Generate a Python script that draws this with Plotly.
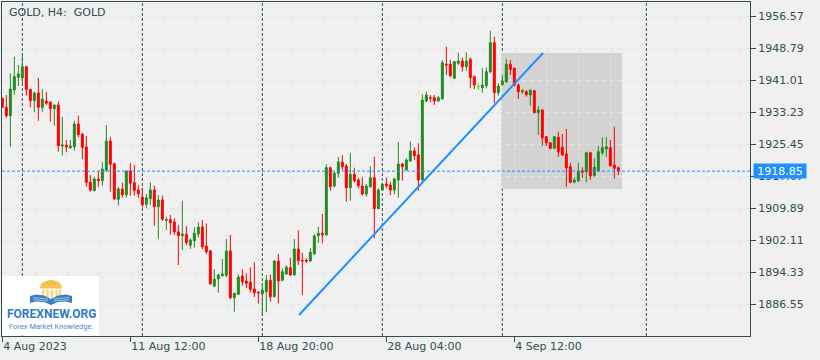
import plotly.graph_objects as go

# ---------------- data (GOLD, H4 bars) ----------------
bar_index = list(range(155))
opens = [1936.56, 1934.37, 1932.33, 1938.58, 1941.67, 1941.50, 1944.24, 1938.75, 1935.98, 1937.85,
         1934.37, 1935.90, 1935.66, 1934.03, 1934.93, 1924.96, 1925.13, 1924.55, 1924.79, 1930.31,
         1927.88, 1924.72, 1916.14, 1914.10, 1916.94, 1916.53, 1919.13, 1926.18, 1920.66, 1912.01,
         1914.51, 1913.12, 1918.89, 1916.04, 1914.27, 1912.56, 1910.79, 1912.15, 1914.27, 1910.21,
         1911.83, 1906.90, 1907.05, 1906.49, 1904.05, 1903.16, 1903.50, 1900.82, 1901.94, 1903.57,
         1905.27, 1900.65, 1899.44, 1890.93, 1892.63, 1893.43, 1893.53, 1899.44, 1888.08, 1888.91,
         1893.36, 1892.14, 1891.90, 1890.20, 1889.47, 1889.05, 1889.54, 1892.31, 1888.32, 1897.00,
         1892.31, 1893.84, 1895.38, 1893.60, 1899.92, 1897.13, 1897.13, 1897.00, 1898.71, 1903.16,
         1903.74, 1903.33, 1919.69, 1915.24, 1918.33, 1921.07, 1920.10, 1914.83, 1918.08, 1916.70,
         1915.24, 1913.29, 1915.07, 1917.26, 1909.72, 1914.27, 1915.73, 1915.48, 1914.27, 1916.70,
         1920.59, 1919.13, 1921.32, 1923.75, 1922.78, 1916.70, 1935.90, 1936.71, 1936.71, 1935.90,
         1936.39, 1944.83, 1944.83, 1941.42, 1945.07, 1945.63, 1944.24, 1946.04, 1941.81, 1939.38,
         1939.14, 1939.62, 1943.03, 1950.08, 1937.92, 1939.87, 1940.60, 1944.85, 1943.85, 1939.79,
         1938.09, 1938.17, 1937.36, 1938.41, 1933.06, 1933.72, 1927.22, 1925.77, 1924.40, 1927.08,
         1924.65, 1923.02, 1919.93, 1916.14, 1916.53, 1918.96, 1918.71, 1923.33, 1917.74, 1918.96,
         1923.33, 1924.23, 1924.55, 1920.34, 1919.69]
highs = [1936.71, 1937.36, 1942.64, 1946.67, 1944.66, 1946.92, 1944.30, 1938.80, 1938.17, 1941.50,
         1938.75, 1938.09, 1935.70, 1935.00, 1935.73, 1932.01, 1926.42, 1926.42, 1931.11, 1932.33,
         1928.05, 1927.39, 1917.91, 1917.50, 1918.96, 1921.07, 1930.07, 1927.22, 1920.90, 1915.07,
         1916.04, 1918.95, 1920.76, 1920.34, 1915.48, 1914.83, 1913.29, 1916.14, 1915.31, 1913.05,
         1912.88, 1907.77, 1908.19, 1907.39, 1905.76, 1911.59, 1905.51, 1902.52, 1905.20, 1906.41,
         1906.97, 1906.17, 1899.68, 1894.99, 1893.84, 1897.49, 1902.35, 1903.33, 1889.20, 1893.77,
         1894.99, 1894.01, 1895.47, 1896.69, 1889.50, 1891.41, 1893.60, 1893.77, 1897.25, 1898.71,
         1895.23, 1895.96, 1897.81, 1902.35, 1904.42, 1899.02, 1897.73, 1900.09, 1903.50, 1905.34,
         1908.43, 1920.52, 1919.93, 1918.71, 1922.29, 1922.78, 1920.59, 1923.19, 1919.69, 1917.26,
         1917.35, 1915.73, 1920.10, 1922.36, 1914.68, 1916.04, 1917.26, 1916.29, 1917.26, 1925.94,
         1920.90, 1921.97, 1926.01, 1924.65, 1925.62, 1937.53, 1938.17, 1937.36, 1937.36, 1937.12,
         1945.87, 1949.11, 1945.87, 1945.63, 1947.65, 1946.43, 1947.74, 1946.53, 1942.06, 1940.21,
         1943.85, 1944.00, 1953.00, 1951.54, 1940.21, 1942.23, 1946.16, 1945.87, 1944.10, 1940.21,
         1938.82, 1938.58, 1938.82, 1938.58, 1934.69, 1933.89, 1927.39, 1925.86, 1927.39, 1928.44,
         1927.88, 1929.10, 1920.90, 1917.35, 1920.90, 1919.79, 1923.58, 1923.50, 1921.97, 1924.96,
         1927.08, 1927.08, 1926.42, 1929.66, 1919.93]
lows = [1934.27, 1931.84, 1924.79, 1937.36, 1939.55, 1940.21, 1937.19, 1934.37, 1933.16, 1931.11,
        1933.30, 1934.93, 1930.87, 1929.90, 1923.58, 1922.61, 1923.43, 1924.23, 1923.82, 1927.08,
        1921.80, 1915.07, 1913.85, 1914.00, 1915.07, 1915.31, 1918.71, 1913.85, 1911.83, 1910.45,
        1912.39, 1912.39, 1912.88, 1912.88, 1912.39, 1910.06, 1909.82, 1910.55, 1905.59, 1902.43,
        1906.80, 1904.54, 1903.40, 1903.33, 1896.03, 1899.68, 1900.82, 1899.92, 1900.24, 1902.77,
        1899.92, 1898.71, 1891.30, 1890.61, 1889.30, 1893.19, 1893.11, 1887.69, 1884.68, 1888.80,
        1891.00, 1890.37, 1889.39, 1888.25, 1886.62, 1883.88, 1884.53, 1887.11, 1888.30, 1886.72,
        1892.14, 1893.60, 1893.50, 1893.50, 1896.03, 1888.74, 1896.52, 1896.83, 1898.60, 1901.38,
        1901.31, 1903.20, 1914.10, 1914.83, 1917.26, 1919.13, 1911.42, 1911.66, 1916.04, 1914.68,
        1912.88, 1912.64, 1914.83, 1902.52, 1909.60, 1914.10, 1914.68, 1913.05, 1913.22, 1912.39,
        1916.53, 1919.00, 1921.15, 1921.56, 1914.10, 1916.60, 1935.59, 1935.59, 1934.93, 1935.73,
        1936.30, 1942.23, 1941.67, 1941.25, 1944.66, 1943.03, 1943.20, 1938.99, 1938.82, 1938.58,
        1937.92, 1938.99, 1942.64, 1935.35, 1937.19, 1939.67, 1940.28, 1942.23, 1939.55, 1936.39,
        1937.61, 1936.95, 1934.76, 1932.91, 1927.64, 1925.04, 1924.96, 1924.16, 1924.23, 1922.36,
        1922.53, 1915.07, 1915.90, 1915.90, 1916.14, 1917.26, 1916.14, 1916.70, 1917.50, 1918.71,
        1922.78, 1922.36, 1919.93, 1917.11, 1917.91]
closes = [1934.37, 1932.33, 1938.82, 1941.81, 1942.47, 1944.24, 1938.75, 1935.98, 1937.85, 1934.37,
          1936.39, 1935.35, 1934.03, 1934.93, 1925.04, 1925.21, 1924.72, 1924.96, 1930.31, 1927.71,
          1924.65, 1916.14, 1914.27, 1916.94, 1916.53, 1919.37, 1926.18, 1920.51, 1912.08, 1914.51,
          1913.12, 1918.89, 1915.90, 1914.19, 1913.37, 1910.69, 1912.39, 1914.27, 1910.21, 1911.83,
          1907.14, 1907.05, 1906.32, 1904.13, 1903.16, 1903.57, 1901.45, 1902.11, 1903.74, 1905.27,
          1900.48, 1899.27, 1891.41, 1892.56, 1893.60, 1893.84, 1899.44, 1888.08, 1889.15, 1893.11,
          1891.97, 1891.58, 1890.12, 1889.30, 1889.30, 1889.88, 1892.31, 1888.32, 1897.00, 1892.14,
          1894.40, 1895.47, 1893.60, 1899.92, 1897.13, 1897.03, 1897.00, 1899.12, 1903.08, 1903.74,
          1903.33, 1919.69, 1915.07, 1918.33, 1921.07, 1919.93, 1914.83, 1918.08, 1916.53, 1915.31,
          1913.29, 1915.24, 1917.26, 1909.72, 1914.27, 1915.65, 1915.31, 1914.27, 1916.94, 1920.59,
          1919.93, 1921.56, 1923.75, 1922.61, 1916.70, 1936.15, 1937.36, 1936.56, 1935.90, 1936.71,
          1945.22, 1944.66, 1942.06, 1945.46, 1945.63, 1944.24, 1945.63, 1941.57, 1939.79, 1939.45,
          1939.79, 1943.03, 1950.08, 1937.92, 1939.55, 1940.77, 1944.85, 1943.56, 1939.79, 1938.17,
          1938.34, 1937.44, 1938.51, 1933.06, 1933.72, 1926.98, 1925.77, 1924.40, 1927.22, 1923.58,
          1922.78, 1919.69, 1916.14, 1916.70, 1918.89, 1918.57, 1923.33, 1917.67, 1919.79, 1923.58,
          1924.55, 1924.79, 1920.17, 1919.54, 1918.85]
highlight_bars = [119]           # bar drawn in bright green

x_tick_positions = [0, 32, 64, 96, 128]
x_tick_labels = ["4 Aug 2023", "11 Aug 12:00", "18 Aug 20:00", "28 Aug 04:00", "4 Sep 12:00"]
y_tick_values = [1886.55, 1894.33, 1902.11, 1909.89, 1917.67, 1925.45, 1933.23, 1941.01, 1948.79, 1956.57]
y_tick_labels = ["%.2f" % v for v in y_tick_values]
week_separators = [5, 35, 65, 95, 125, 161]
current_price = 1918.85
trend_x = [74.17, 135.17]
trend_y = [1883.88, 1947.57]
rect_x = [124.92, 154.92]
rect_y = [1914.51, 1947.57]
symbol_title = "GOLD, H4:\u00a0 GOLD"

# ---------------- styling ----------------
DARK = "#2F4F4F"
BG = "#F0F0F0"
GRID = "#E3E3E3"
BLUE = "#1E90FF"
FONT = "DejaVu Sans"
W, H = 820, 360
ML, MR, MT, MB = 2, 70, 2, 24
PW, PH = W - ML - MR, H - MT - MB
X_RANGE = [-0.0825, -0.0825 + PW / 4.0]
Y_RANGE = [1878.77, 1959.974]


def px(xp):
    return (xp - ML) / PW


def py(yp):
    return (H - MB - yp) / PH


fig = go.Figure()

main = [i for i in bar_index if i not in highlight_bars]
fig.add_trace(go.Candlestick(
    x=[bar_index[i] for i in main],
    open=[opens[i] for i in main], high=[highs[i] for i in main],
    low=[lows[i] for i in main], close=[closes[i] for i in main],
    increasing=dict(line=dict(color="#228B22", width=1), fillcolor="#228B22"),
    decreasing=dict(line=dict(color="#FF0000", width=1), fillcolor="#FF0000"),
    whiskerwidth=0, hoverinfo="skip", showlegend=False))
fig.add_trace(go.Candlestick(
    x=[bar_index[i] for i in highlight_bars],
    open=[opens[i] for i in highlight_bars], high=[highs[i] for i in highlight_bars],
    low=[lows[i] for i in highlight_bars], close=[closes[i] for i in highlight_bars],
    increasing=dict(line=dict(color="#00FF00", width=1), fillcolor="#00FF00"),
    decreasing=dict(line=dict(color="#00FF00", width=1), fillcolor="#00FF00"),
    whiskerwidth=0, hoverinfo="skip", showlegend=False))

# trend line
fig.add_trace(go.Scatter(x=trend_x, y=trend_y, mode="lines",
                         line=dict(color=BLUE, width=2), hoverinfo="skip", showlegend=False))

shapes = []
# rectangle object (background)
shapes.append(dict(type="rect", xref="x", yref="y", x0=rect_x[0], x1=rect_x[1],
                   y0=rect_y[0], y1=rect_y[1], fillcolor="#D3D3D3", line=dict(width=0),
                   layer="below"))
# period separators
for s in week_separators:
    shapes.append(dict(type="line", xref="x", yref="paper", x0=s, x1=s, y0=0, y1=1,
                       line=dict(color=DARK, width=1, dash="3px,2px"), layer="below"))
# bid line
shapes.append(dict(type="line", xref="paper", yref="y", x0=0, x1=1,
                   y0=current_price, y1=current_price,
                   line=dict(color=BLUE, width=1, dash="3px,2px"), layer="above"))

# ---- watermark logo ----
GOLDC = "#F3C245"
shapes.append(dict(type="rect", xref="paper", yref="paper", x0=px(2.5), x1=px(99),
                   y0=py(335.5), y1=py(276), fillcolor="white", line=dict(width=0), layer="above"))


def path(points):
    return "M " + " L ".join("%.5f,%.5f" % (px(a), py(b)) for a, b in points) + " Z"


# dome
shapes.append(dict(type="path", xref="paper", yref="paper",
                   path=path([(40, 286.5), (42, 283), (46, 281), (51, 280), (56, 281), (60, 283), (62, 286.5)]),
                   fillcolor=GOLDC, line=dict(width=0), layer="above"))
shapes.append(dict(type="rect", xref="paper", yref="paper", x0=px(40), x1=px(62),
                   y0=py(288.5), y1=py(286.5), fillcolor=GOLDC, line=dict(width=0), layer="above"))
for cx in [43, 47.5, 52, 56.5, 60]:
    shapes.append(dict(type="rect", xref="paper", yref="paper", x0=px(cx - 1.2), x1=px(cx + 1.2),
                       y0=py(298), y1=py(289.5), fillcolor="#F7D77A", line=dict(width=0), layer="above"))
# book
shapes.append(dict(type="path", xref="paper", yref="paper",
                   path=path([(30, 296), (36, 294.5), (44, 295.5), (51, 299), (51, 305), (44, 302), (36, 301.5), (30, 303)]),
                   fillcolor="#3D7CC2", line=dict(width=0), layer="above"))
shapes.append(dict(type="path", xref="paper", yref="paper",
                   path=path([(72, 296), (66, 294.5), (58, 295.5), (51, 299), (51, 305), (58, 302), (66, 301.5), (72, 303)]),
                   fillcolor="#3D7CC2", line=dict(width=0), layer="above"))
for yy in [297.5, 299.5]:
    shapes.append(dict(type="line", xref="paper", yref="paper", x0=px(33), x1=px(48),
                       y0=py(yy), y1=py(yy + 1.5), line=dict(color="#9CC3EC", width=1), layer="above"))
    shapes.append(dict(type="line", xref="paper", yref="paper", x0=px(69), x1=px(54),
                       y0=py(yy), y1=py(yy + 1.5), line=dict(color="#9CC3EC", width=1), layer="above"))

annotations = [
    dict(text=symbol_title, xref="paper", yref="paper", x=px(7), y=py(12), xanchor="left",
         yanchor="middle", showarrow=False, font=dict(family=FONT, size=11, color=DARK)),
    dict(text="%.2f" % current_price, xref="paper", yref="y", x=px(752.5), y=current_price,
         xanchor="left", yanchor="middle", showarrow=False, bgcolor=BLUE,
         font=dict(family=FONT, size=11, color="white"), borderpad=1, width=50, height=12),
    dict(text="<b>FOREXNEW.ORG</b>", xref="paper", yref="paper", x=px(51), y=py(313.5),
         xanchor="center", yanchor="middle", showarrow=False,
         font=dict(family="Roboto", size=12, color="#2F7CC3")),
    dict(text="Forex Market Knowledge.", xref="paper", yref="paper", x=px(51), y=py(326),
         xanchor="center", yanchor="middle", showarrow=False,
         font=dict(family="Roboto", size=7.5, color="#4A8BCB")),
]

fig.update_layout(
    width=W, height=H, margin=dict(l=ML, r=MR, t=MT, b=MB, pad=0),
    paper_bgcolor=BG, plot_bgcolor=BG,
    font=dict(family=FONT, size=11, color=DARK),
    shapes=shapes, annotations=annotations, showlegend=False,
    xaxis=dict(range=X_RANGE, tickmode="array", tickvals=x_tick_positions, ticktext=x_tick_labels,
               ticks="outside", ticklen=5, tickcolor=DARK, ticklabelposition="outside right",
               showline=True, mirror=True, linecolor=DARK, linewidth=1,
               showgrid=True, gridcolor=GRID, griddash="4px,4px", gridwidth=1,
               minor=dict(tick0=0, dtick=8, showgrid=True, gridcolor=GRID, griddash="4px,4px"),
               zeroline=False, rangeslider=dict(visible=False), fixedrange=True,
               tickfont=dict(family=FONT, size=11, color=DARK)),
    yaxis=dict(range=Y_RANGE, side="right", tickmode="array", tickvals=y_tick_values,
               ticktext=y_tick_labels, ticks="outside", ticklen=5, tickcolor=DARK,
               showline=True, mirror=True, linecolor=DARK, linewidth=1,
               showgrid=True, gridcolor=GRID, griddash="4px,4px", gridwidth=1,
               zeroline=False, fixedrange=True,
               tickfont=dict(family=FONT, size=11, color=DARK)),
)

fig.write_html("out.html", config={"displayModeBar": False})
